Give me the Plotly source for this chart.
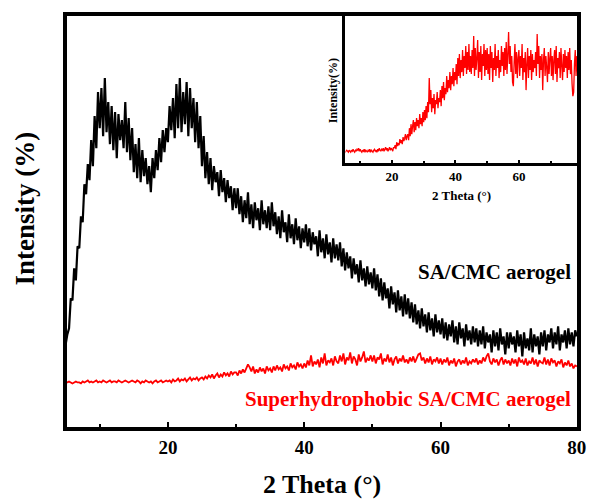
import plotly.graph_objects as go

# ---------------- data (2 Theta from 5 deg in 0.25 deg steps) ----------------
theta_start = 5.0
theta_step = 0.25

sa_cmc = [
    84, 94, 100, 130, 128, 160, 148, 182, 180, 212, 206, 244, 234, 264, 248, 288, 262, 312, 280, 336,
    300, 340, 292, 350, 296, 326, 284, 322, 278, 316, 270, 314, 288, 308, 280, 326, 276, 310, 268, 300,
    256, 284, 250, 290, 246, 278, 252, 270, 244, 262, 236, 270, 250, 278, 258, 290, 266, 298, 276, 300,
    286, 322, 298, 330, 290, 344, 300, 350, 296, 336, 304, 346, 292, 340, 300, 330, 286, 326, 280, 312,
    262, 292, 250, 276, 244, 270, 238, 262, 246, 256, 232, 258, 236, 250, 226, 248, 230, 242, 218, 240,
    220, 240, 214, 232, 206, 228, 210, 236, 204, 224, 200, 226, 208, 220, 198, 228, 204, 218, 200, 222,
    198, 226, 202, 216, 194, 212, 190, 218, 196, 206, 186, 214, 190, 204, 184, 210, 188, 202, 180, 200,
    186, 204, 182, 200, 178, 196, 184, 192, 172, 198, 176, 190, 170, 194, 174, 186, 166, 190, 170, 184,
    168, 186, 162, 180, 158, 176, 160, 172, 150, 170, 154, 164, 146, 168, 148, 160, 142, 162, 144, 156,
    140, 160, 138, 154, 132, 150, 128, 146, 130, 140, 120, 142, 124, 136, 116, 138, 118, 132, 112, 134,
    114, 130, 110, 126, 106, 124, 104, 118, 100, 120, 102, 114, 96, 116, 98, 110, 92, 114, 96, 108,
    94, 110, 90, 106, 88, 104, 92, 108, 86, 102, 84, 106, 90, 100, 82, 104, 88, 98, 84, 102,
    86, 100, 82, 98, 84, 102, 80, 96, 86, 94, 76, 98, 82, 96, 78, 100, 84, 92, 74, 96,
    80, 96, 84, 92, 76, 98, 82, 94, 72, 96, 80, 90, 78, 100, 76, 94, 82, 92, 74, 96,
    82, 98, 78, 94, 86, 100, 80, 96, 84, 102, 78, 94, 86, 98, 80, 100, 84, 96, 82, 98,
    92,
]

superhydrophobic = [
    46, 46, 47, 46, 45, 46, 47, 46, 46, 45, 47, 46, 47, 48, 46, 47, 46, 47, 48, 46,
    47, 46, 48, 47, 46, 47, 48, 46, 47, 47, 46, 48, 47, 46, 47, 48, 47, 46, 47, 48,
    47, 46, 48, 47, 45, 47, 46, 48, 47, 46, 47, 45, 47, 48, 46, 47, 48, 46, 47, 48,
    47, 48, 46, 49, 47, 48, 50, 47, 49, 48, 50, 47, 49, 51, 48, 50, 49, 51, 48, 50,
    51, 49, 52, 50, 53, 51, 54, 50, 53, 55, 51, 54, 52, 56, 53, 55, 52, 57, 54, 56,
    56, 53, 58, 55, 59, 56, 60, 64, 61, 57, 62, 55, 59, 56, 61, 57, 60, 55, 62, 58,
    60, 56, 62, 58, 63, 59, 61, 57, 64, 60, 62, 58, 65, 61, 63, 59, 66, 62, 64, 60,
    65, 61, 68, 63, 73, 62, 67, 64, 69, 61, 71, 65, 75, 63, 68, 66, 70, 63, 72, 67,
    65, 73, 67, 75, 64, 71, 68, 76, 65, 72, 69, 63, 74, 67, 71, 77, 66, 70, 68, 73,
    67, 73, 65, 71, 69, 75, 64, 70, 67, 74, 66, 71, 63, 69, 72, 65, 70, 67, 73, 66,
    69, 65, 71, 67, 72, 66, 70, 74, 75, 68, 71, 65, 70, 66, 72, 64, 69, 67, 71, 65,
    70, 64, 69, 66, 71, 63, 68, 65, 70, 62, 67, 69, 64, 68, 65, 71, 63, 67, 65, 69,
    66, 70, 64, 68, 65, 71, 67, 72, 75, 67, 64, 70, 66, 69, 63, 68, 71, 64, 69, 65,
    68, 63, 70, 65, 69, 62, 71, 66, 68, 64, 70, 63, 67, 65, 71, 64, 69, 62, 68, 66,
    65, 71, 64, 69, 63, 70, 66, 68, 62, 67, 65, 69, 61, 66, 63, 68, 62, 65, 60, 63,
    62,
]

inset_superhydrophobic = [
    13, 12, 13, 14, 13, 12, 14, 13, 12, 14, 13, 15, 13, 12, 14, 13, 15, 14, 16, 13,
    15, 13, 12, 14, 13, 15, 12, 14, 13, 12, 14, 13, 15, 12, 14, 13, 12, 14, 15, 13,
    14, 12, 15, 13, 16, 14, 13, 15, 14, 16, 13, 15, 17, 14, 16, 13, 15, 17, 14, 16,
    15, 13, 17, 16, 19, 15, 22, 18, 21, 19, 25, 21, 24, 20, 27, 23, 26, 30, 24, 28,
    30, 24, 36, 28, 40, 30, 38, 44, 32, 42, 34, 46, 38, 44, 36, 50, 40, 46, 38, 52,
    42, 54, 44, 58, 46, 62, 52, 86, 60, 74, 52, 66, 56, 70, 50, 64, 60, 72, 56, 66,
    62, 74, 58, 78, 66, 82, 64, 76, 70, 88, 72, 84, 76, 92, 74, 88, 80, 96, 78, 92,
    84, 100, 80, 106, 88, 110, 86, 104, 92, 114, 88, 108, 96, 118, 90, 112, 94, 120, 92, 108,
    90, 114, 96, 128, 88, 116, 94, 106, 124, 86, 112, 92, 118, 84, 110, 98, 120, 88, 114, 94,
    116, 90, 110, 84, 118, 96, 112, 82, 106, 94, 120, 88, 108, 96, 114, 86, 104, 92, 118, 98,
    112, 88, 116, 94, 122, 90, 110, 132, 100, 118, 92, 108, 82, 78, 102, 120, 90, 112, 86, 106,
    114, 88, 108, 96, 120, 84, 106, 92, 112, 74, 100, 116, 86, 108, 94, 114, 84, 110, 92, 104,
    96, 112, 88, 130, 100, 118, 86, 108, 94, 110, 74, 104, 116, 88, 108, 96, 82, 112, 90, 106,
    116, 88, 108, 84, 104, 114, 90, 118, 82, 106, 96, 112, 86, 116, 98, 84, 110, 92, 114, 96,
    108, 86, 112, 94, 116, 90, 104, 80, 68, 72, 100, 114, 88, 108, 92, 96,
]

x_ticks = [20, 40, 60, 80]
x_minor = [10, 30, 50, 70]
inset_ticks = [20, 40, 60]
label_black = "SA/CMC aerogel"
label_red = "Superhydrophobic SA/CMC aerogel"

theta_main = [theta_start + i * theta_step for i in range(len(sa_cmc))]
theta_red = [theta_start + i * theta_step for i in range(len(superhydrophobic))]
theta_inset = [theta_start + i * theta_step for i in range(len(inset_superhydrophobic))]

FONT = "Liberation Serif"

fig = go.Figure()
fig.add_trace(go.Scatter(x=theta_main, y=sa_cmc, mode="lines",
                         line=dict(color="black", width=2.2, simplify=False), xaxis="x", yaxis="y",
                         showlegend=False, hoverinfo="skip"))
fig.add_trace(go.Scatter(x=theta_red, y=superhydrophobic, mode="lines",
                         line=dict(color="#ff0000", width=1.8, simplify=False), xaxis="x", yaxis="y",
                         showlegend=False, hoverinfo="skip"))
fig.add_trace(go.Scatter(x=theta_inset, y=inset_superhydrophobic, mode="lines",
                         line=dict(color="#ff0000", width=1.3, simplify=False), xaxis="x2", yaxis="y2",
                         showlegend=False, hoverinfo="skip"))

def title_font(size, color="black"):
    return dict(family=FONT, size=size, color=color, weight="bold")

fig.update_layout(
    width=590, height=499,
    margin=dict(l=67, r=13, t=16, b=72, autoexpand=False),
    paper_bgcolor="white", plot_bgcolor="white",
    font=dict(family=FONT, color="black"),
    xaxis=dict(
        domain=[0, 1], range=[5.2, 80.02], anchor="y", automargin=False,
        showgrid=False, zeroline=False,
        showline=True, linecolor="black", linewidth=4, mirror=True,
        tickmode="array", tickvals=x_ticks, ticktext=[str(t) for t in x_ticks],
        ticks="inside", ticklen=5, tickwidth=2, tickcolor="black",
        minor=dict(tickvals=x_minor, ticks="inside", ticklen=3, tickwidth=2, tickcolor="black"),
        tickfont=title_font(19),
    ),
    yaxis=dict(
        domain=[0, 1], range=[1.5, 412], anchor="x", automargin=False,
        showgrid=False, zeroline=False,
        showline=True, linecolor="black", linewidth=4, mirror=True,
        showticklabels=False, ticks="",
    ),
    xaxis2=dict(
        domain=[0.546, 1.0], range=[5.35, 78.3], anchor="y2", automargin=False,
        showgrid=False, zeroline=False,
        showline=True, linecolor="black", linewidth=3, mirror=True,
        tickmode="array", tickvals=inset_ticks, ticktext=[str(t) for t in inset_ticks],
        ticks="inside", ticklen=3, tickwidth=1.5, tickcolor="black",
        minor=dict(tickvals=x_minor, ticks="inside", ticklen=2, tickwidth=1.5, tickcolor="black"),
        tickfont=title_font(13),
    ),
    yaxis2=dict(
        domain=[0.643, 1.0], range=[1.5, 148], anchor="x2", automargin=False,
        showgrid=False, zeroline=False,
        showline=True, linecolor="black", linewidth=3, mirror=True,
        showticklabels=False, ticks="",
    ),
    annotations=[
        dict(text="2 Theta (°)", xref="paper", yref="paper", x=0.5, y=-0.141,
             xanchor="center", yanchor="middle", showarrow=False, font=title_font(26)),
        dict(text="Intensity (%)", xref="paper", yref="paper", x=-0.082, y=0.532,
             xanchor="center", yanchor="middle", textangle=-90, showarrow=False,
             font=title_font(27)),
        dict(text="2 Theta (°)", xref="paper", yref="paper", x=0.773, y=0.564,
             xanchor="center", yanchor="middle", showarrow=False, font=title_font(13)),
        dict(text="Intensity(%)", xref="paper", yref="paper", x=0.5216, y=0.817,
             xanchor="center", yanchor="middle", textangle=-90, showarrow=False,
             font=title_font(12)),
        dict(text=label_black, xref="paper", yref="paper", x=0.992, y=0.377,
             xanchor="right", yanchor="middle", showarrow=False, font=title_font(21)),
        dict(text=label_red, xref="paper", yref="paper", x=0.992, y=0.068,
             xanchor="right", yanchor="middle", showarrow=False,
             font=title_font(21, "#ff0000")),
    ],
)

fig.write_html("out.html")
